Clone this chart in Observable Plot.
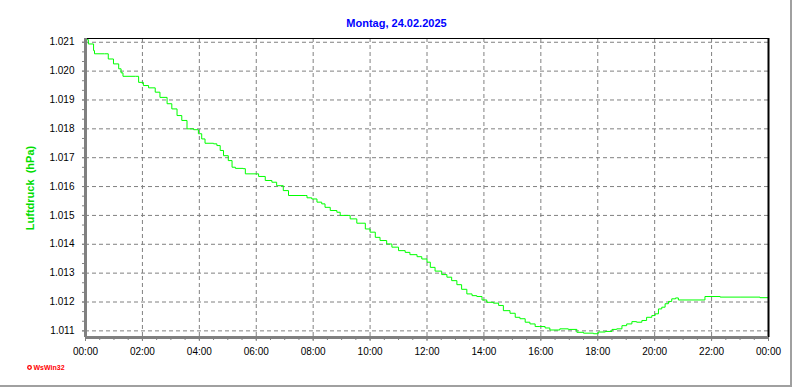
<!DOCTYPE html>
<html>
<head>
<meta charset="utf-8">
<script src="https://cdn.jsdelivr.net/npm/d3@7"></script>
<script src="https://cdn.jsdelivr.net/npm/@observablehq/plot@0.6"></script>
<style>
  html, body { margin: 0; padding: 0; background: #fff; }
  #wrap { position: relative; width: 792px; height: 387px; overflow: hidden; background: #fff; }
  #wrap svg { position: absolute; left: 0; top: 0; }
  .edgeR { position: absolute; left: 790px; top: 0; width: 2px; height: 387px; background: #a0a0a0; }
  .edgeB { position: absolute; left: 0; top: 385px; width: 792px; height: 2px; background: #a0a0a0; }
</style>
</head>
<body>
<div id="wrap"></div>
<script>
// ---- data (minutes since 00:00, pressure in hPa) ----
const title = "Montag, 24.02.2025";
const yLabel = "Luftdruck  (hPa)";
const logoText = "WsWin32";

const minutes = [
  0, 6, 17, 19, 40, 48, 59, 70, 75, 79,
  105, 112, 122, 133, 147, 157, 172, 182, 193, 203,
  214, 228, 238, 245, 252, 270, 277, 284, 291, 301,
  309, 316, 332, 337, 361, 365, 379, 393, 403, 417,
  428, 463, 467, 477, 488, 498, 505, 516, 530, 537,
  551, 558, 572, 590, 600, 611, 621, 635, 646, 660,
  674, 684, 699, 709, 720, 727, 737, 751, 762, 772,
  783, 793, 804, 815, 825, 836, 846, 860, 871, 881,
  895, 906, 916, 927, 937, 948, 958, 969, 979, 1000,
  1018, 1036, 1050, 1071, 1081, 1096, 1110, 1120, 1131, 1141,
  1152, 1162, 1173, 1183, 1194, 1201, 1208, 1215, 1222, 1229,
  1236, 1244, 1250, 1302, 1306, 1338, 1380, 1422, 1440
];
const pressure = [
  1021.09, 1020.94, 1020.71, 1020.60, 1020.60, 1020.42, 1020.25, 1020.08, 1019.94, 1019.82,
  1019.82, 1019.61, 1019.50, 1019.42, 1019.27, 1019.09, 1018.87, 1018.69, 1018.46, 1018.29,
  1018.00, 1017.97, 1017.83, 1017.65, 1017.50, 1017.48, 1017.42, 1017.25, 1017.07, 1016.90,
  1016.67, 1016.63, 1016.62, 1016.44, 1016.44, 1016.35, 1016.21, 1016.15, 1016.03, 1015.86,
  1015.69, 1015.69, 1015.61, 1015.57, 1015.46, 1015.40, 1015.28, 1015.17, 1015.11, 1015.00,
  1015.00, 1014.88, 1014.73, 1014.53, 1014.42, 1014.24, 1014.13, 1014.01, 1013.90, 1013.78,
  1013.72, 1013.64, 1013.57, 1013.49, 1013.38, 1013.20, 1013.07, 1012.95, 1012.86, 1012.74,
  1012.60, 1012.44, 1012.28, 1012.22, 1012.19, 1012.07, 1011.99, 1011.96, 1011.88, 1011.70,
  1011.61, 1011.47, 1011.42, 1011.30, 1011.24, 1011.15, 1011.15, 1011.10, 1011.03, 1011.07,
  1011.05, 1010.95, 1010.92, 1010.90, 1010.96, 1010.98, 1011.05, 1011.07, 1011.18, 1011.24,
  1011.32, 1011.30, 1011.36, 1011.47, 1011.53, 1011.59, 1011.76, 1011.82, 1011.94, 1012.02,
  1012.11, 1012.14, 1012.07, 1012.07, 1012.19, 1012.17, 1012.17, 1012.15, 1012.17
];

// tick values
const xMajorTicks = [0, 120, 240, 360, 480, 600, 720, 840, 960, 1080, 1200, 1320, 1440];
const xMinorTicks = d3.range(0, 1441, 30);
const yMajorTicks = [1011, 1012, 1013, 1014, 1015, 1016, 1017, 1018, 1019, 1020, 1021];
const yMinorTicks = d3.range(1010, 1021.2, 1 / 3);

const yDomain = [1010.77, 1021.13];

const data = minutes.map((m, i) => ({m, v: pressure[i]}));
const fmtX = d => {
  const h = Math.floor(d / 60) % 24, mm = d % 60;
  return String(h).padStart(2, "0") + ":" + String(mm).padStart(2, "0");
};
const fmtY = d => "1." + String(Math.round(d) - 1000).padStart(3, "0");

const anchor = [{m: 0, v: yDomain[0]}];
const topCenter = [{m: 720, v: yDomain[1]}];
const midLeft = [{m: 0, v: (yDomain[0] + yDomain[1]) / 2}];

const chart = Plot.plot({
  width: 792,
  height: 387,
  marginLeft: 85,
  marginRight: 24,
  marginTop: 38,
  marginBottom: 50,
  style: {fontFamily: "'Liberation Sans', Arial, sans-serif", fontSize: "10px", background: "transparent", color: "black"},
  x: {domain: [0, 1440]},
  y: {domain: yDomain},
  marks: [
    Plot.ruleX(xMajorTicks.filter(d => d > 0 && d < 1440), {stroke: "#808080", strokeDasharray: "4,3", strokeWidth: 1}),
    Plot.ruleY(yMajorTicks, {stroke: "#808080", strokeDasharray: "4,3", strokeWidth: 1}),
    Plot.line(data, {x: "m", y: "v", stroke: "#00ff00", strokeWidth: 1, curve: "step-after"}),
    Plot.ruleY([yDomain[1]], {stroke: "black", strokeWidth: 1}),
    Plot.ruleX([1440], {stroke: "black", strokeWidth: 2}),
    Plot.ruleX([0], {stroke: "#808080", strokeWidth: 3}),
    Plot.ruleY([yDomain[0]], {stroke: "#808080", strokeWidth: 3}),
    Plot.axisX({ticks: xMinorTicks, tickSize: 3, tickFormat: () => "", label: null, stroke: "#808080"}),
    Plot.axisX({ticks: xMajorTicks, tickSize: 4, tickPadding: 6, tickFormat: fmtX, label: null, stroke: "#808080", fill: "black", fontSize: 10}),
    Plot.axisY({ticks: yMinorTicks.filter(d => d > yDomain[0] && d < yDomain[1]), tickSize: 3, tickFormat: () => "", label: null, stroke: "#808080"}),
    Plot.axisY({ticks: yMajorTicks, tickSize: 3, tickPadding: 8, tickFormat: fmtY, label: null, stroke: "#808080", fill: "black", fontSize: 10}),
    // title
    Plot.text(topCenter, {x: "m", y: "v", text: () => title, dx: -30.5, dy: -15, fill: "#0000ff", fontWeight: "bold", fontSize: 11}),
    // y-axis label
    Plot.text(midLeft, {x: "m", y: "v", text: () => yLabel, rotate: -90, dx: -55, fill: "#00dd00", fontWeight: "bold", fontSize: 11}),
    // logo
    Plot.dot(anchor, {x: "m", y: "v", r: 1.8, dx: -56, dy: 30, stroke: "#ff0000", strokeWidth: 1.3, fill: "white"}),
    Plot.text(anchor, {x: "m", y: "v", text: () => logoText, dx: -52, dy: 30, textAnchor: "start", fill: "#ff0000", fontWeight: "bold", fontSize: 7})
  ]
});

const wrap = document.getElementById("wrap");
wrap.appendChild(chart);
const r = document.createElement("div"); r.className = "edgeR"; wrap.appendChild(r);
const b = document.createElement("div"); b.className = "edgeB"; wrap.appendChild(b);
</script>
</body>
</html>
